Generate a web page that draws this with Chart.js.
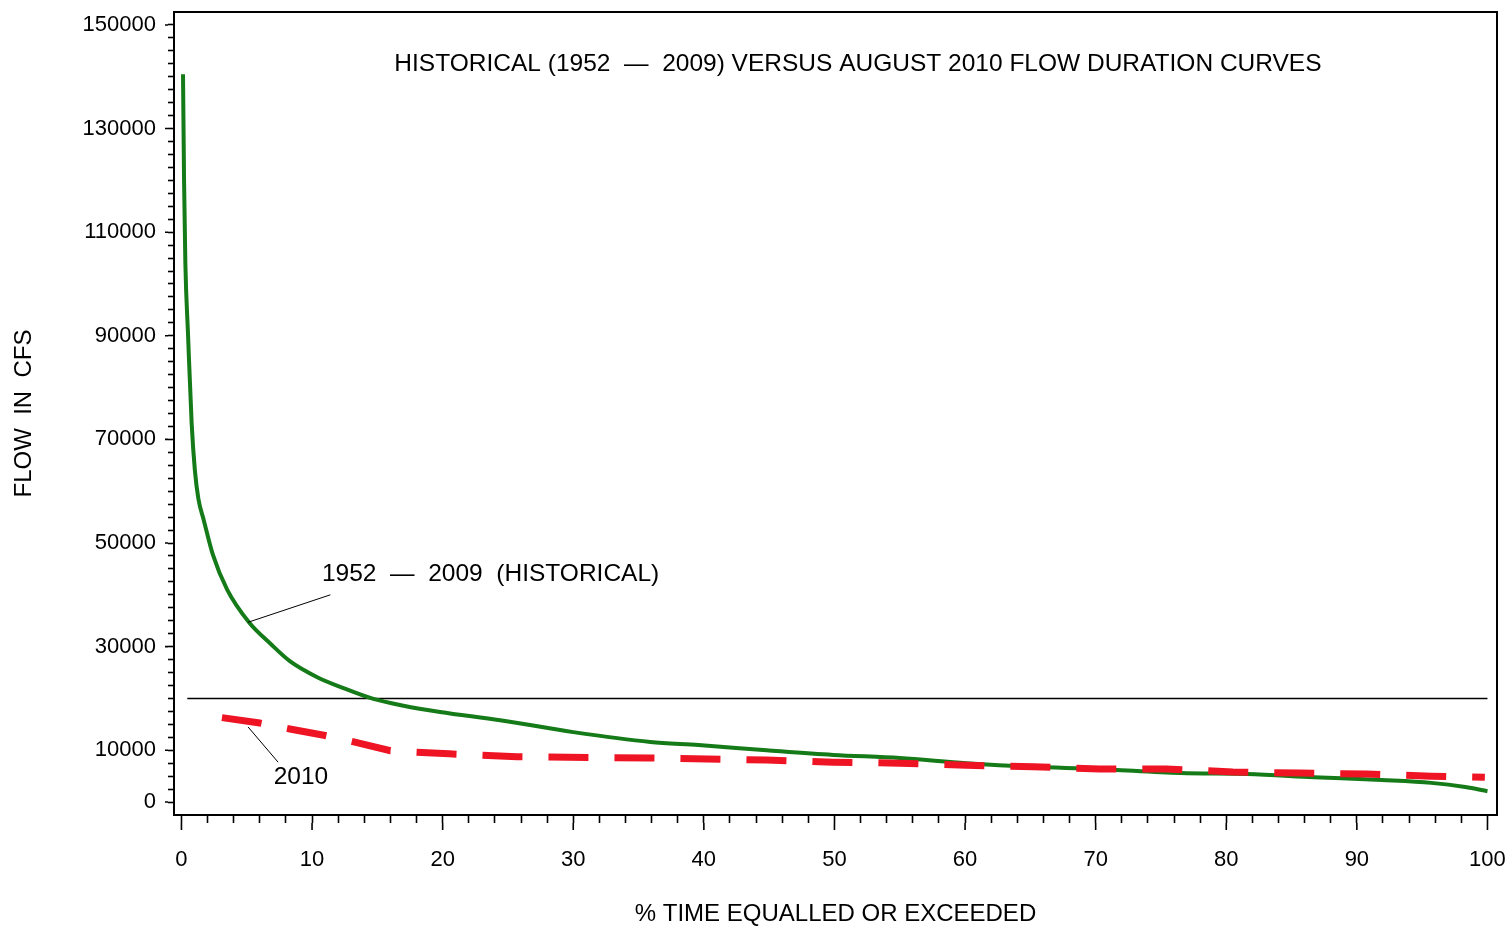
<!DOCTYPE html>
<html><head><meta charset="utf-8">
<script src="https://cdn.jsdelivr.net/npm/chart.js@4.4.0/dist/chart.umd.min.js"></script>
<style>html,body{margin:0;padding:0;background:#fff;}#wrap{width:1511px;height:929px;}</style>
</head><body><div id="wrap"><canvas id="c" width="1511" height="929"></canvas></div>
<script>
// ---- DATA ----
const histX = [0.12, 0.2, 0.3, 0.5, 0.78, 1.03, 1.3, 1.7, 2.4, 3.5, 5.2, 6.8, 8.3, 10.4, 12.4, 14.7, 17.0, 19.8, 24.4, 30, 35.9, 39.6, 44.8, 49.9, 55, 60.1, 65.2, 70, 76.5, 81.6, 86.7, 91.9, 95.7, 98.3, 100];
const histY = [140500, 120000, 104000, 90500, 73200, 64000, 58500, 54500, 47800, 41000, 34600, 30600, 27200, 24100, 22000, 19900, 18600, 17400, 15800, 13500, 11600, 11000, 10000, 9100, 8500, 7500, 6800, 6400, 5600, 5400, 4800, 4250, 3700, 2900, 2100];
const aug2010X = [3.1, 6, 8.3, 10.9, 12.9, 16, 20.5, 25.7, 35.9, 44.8, 49.9, 55, 60.1, 65.2, 70.3, 75.4, 80.5, 85.6, 90.7, 95.7, 99.8];
const aug2010Y = [16300, 15250, 14100, 12900, 11800, 9900, 9300, 8750, 8500, 8100, 7700, 7500, 7100, 6800, 6400, 6400, 5800, 5600, 5400, 5000, 4800];
const refLineX = [0.45, 100];
const refLineY = [20000, 20000];
const xTickLabels = [0, 10, 20, 30, 40, 50, 60, 70, 80, 90, 100];
const yTickLabels = [0, 10000, 30000, 50000, 70000, 90000, 110000, 130000, 150000];
const chartTitle = 'HISTORICAL (1952  \u2014  2009) VERSUS AUGUST 2010 FLOW DURATION CURVES';
const histLabel = '1952  \u2014  2009  (HISTORICAL)';
const label2010 = '2010';
const xTitle = '% TIME EQUALLED OR EXCEEDED';
const yTitle = 'FLOW  IN  CFS';

// ---- annotation placement (data coordinates) ----
const annot = {
  title: {x: 51.8, y: 142500},
  hist: {x: 10.76, y: 44000, lineFrom: [11.4, 40000], lineTo: [5.1, 34700]},
  y2010: {x: 9.15, y: 4800, lineFrom: [7.4, 7700], lineTo: [5.1, 14500]}
};

const FONT = "'Liberation Sans', Arial, sans-serif";
const toPts = (xs, ys) => xs.map((x, i) => ({x, y: ys[i]}));

const overlay = {
  id: 'overlay',
  afterDraw(chart) {
    const {ctx, chartArea: a, scales: {x, y}} = chart;
    ctx.save();
    ctx.strokeStyle = '#000'; ctx.lineWidth = 2;
    ctx.beginPath();
    ctx.moveTo(a.left, a.top); ctx.lineTo(a.right, a.top); ctx.lineTo(a.right, a.bottom);
    ctx.stroke();
    ctx.lineWidth = 1.6;
    ctx.beginPath();
    xTickLabels.forEach(v => { const px = x.getPixelForValue(v); ctx.moveTo(px, a.bottom + 8); ctx.lineTo(px, a.bottom + 15); });
    yTickLabels.forEach(v => { const py = y.getPixelForValue(v); ctx.moveTo(a.left - 6, py); ctx.lineTo(a.left - 9, py); });
    ctx.stroke();
    ctx.lineWidth = 1;
    ctx.beginPath();
    [annot.hist, annot.y2010].forEach(o => {
      ctx.moveTo(x.getPixelForValue(o.lineFrom[0]), y.getPixelForValue(o.lineFrom[1]));
      ctx.lineTo(x.getPixelForValue(o.lineTo[0]), y.getPixelForValue(o.lineTo[1]));
    });
    ctx.stroke();
    ctx.fillStyle = '#000';
    ctx.font = '24.5px ' + FONT;
    ctx.textBaseline = 'middle';
    ctx.textAlign = 'center';
    ctx.fillText(chartTitle, x.getPixelForValue(annot.title.x), y.getPixelForValue(annot.title.y));
    ctx.textAlign = 'left';
    ctx.fillText(histLabel, x.getPixelForValue(annot.hist.x), y.getPixelForValue(annot.hist.y));
    ctx.textAlign = 'center';
    ctx.fillText(label2010, x.getPixelForValue(annot.y2010.x), y.getPixelForValue(annot.y2010.y));
    ctx.restore();
  }
};

new Chart(document.getElementById('c'), {
  type: 'line',
  data: {
    datasets: [
      {label: '2010', data: toPts(aug2010X, aug2010Y), borderColor: '#ee1424', borderWidth: 7, borderDash: [40, 26], borderCapStyle: 'butt', pointRadius: 0, tension: 0, order: 0},
      {label: '1952 - 2009', data: toPts(histX, histY), borderColor: '#157a18', borderWidth: 4, pointRadius: 0, cubicInterpolationMode: 'monotone', order: 1},
      {label: 'ref', data: toPts(refLineX, refLineY), borderColor: '#000', borderWidth: 1.5, pointRadius: 0, tension: 0, order: 2}
    ]
  },
  options: {
    responsive: false,
    devicePixelRatio: 1,
    animation: false,
    layout: {padding: {top: 12, right: 14, left: 0, bottom: 0}},
    plugins: {legend: {display: false}, tooltip: {enabled: false}, title: {display: false}},
    scales: {
      x: {
        type: 'linear', min: -0.57, max: 100.73,
        afterBuildTicks: s => { const t = []; for (let v = 0; v <= 100; v += 2) t.push({value: v}); s.ticks = t; },
        afterFit: s => { s.height = 114; s.paddingLeft = 0; s.paddingRight = 0; },
        grid: {display: true, drawOnChartArea: false, drawTicks: true, tickLength: 8, color: '#000', tickWidth: 1.6},
        border: {display: true, color: '#000', width: 2},
        ticks: {autoSkip: false, maxRotation: 0, padding: 24, color: '#000', font: {family: FONT, size: 22},
          callback: v => xTickLabels.includes(v) ? String(v) : ''},
        title: {display: true, text: xTitle, color: '#000', font: {family: FONT, size: 24}, padding: {top: 0, bottom: 0}}
      },
      y: {
        type: 'linear', min: -2500, max: 152500,
        afterBuildTicks: s => { const t = []; for (let v = 0; v <= 150000; v += 2500) t.push({value: v}); s.ticks = t; },
        afterFit: s => { s.width = 174; s.paddingTop = 0; s.paddingBottom = 0; },
        grid: {display: true, drawOnChartArea: false, drawTicks: true, tickLength: 6, color: '#000', tickWidth: 1.6},
        border: {display: true, color: '#000', width: 2},
        ticks: {autoSkip: false, padding: 12, color: '#000', font: {family: FONT, size: 22},
          callback: v => yTickLabels.includes(v) ? String(v) : ''},
        title: {display: true, text: yTitle, color: '#000', font: {family: FONT, size: 24}, padding: {top: 10, bottom: 0}}
      }
    }
  },
  plugins: [overlay]
});
</script></body></html>
